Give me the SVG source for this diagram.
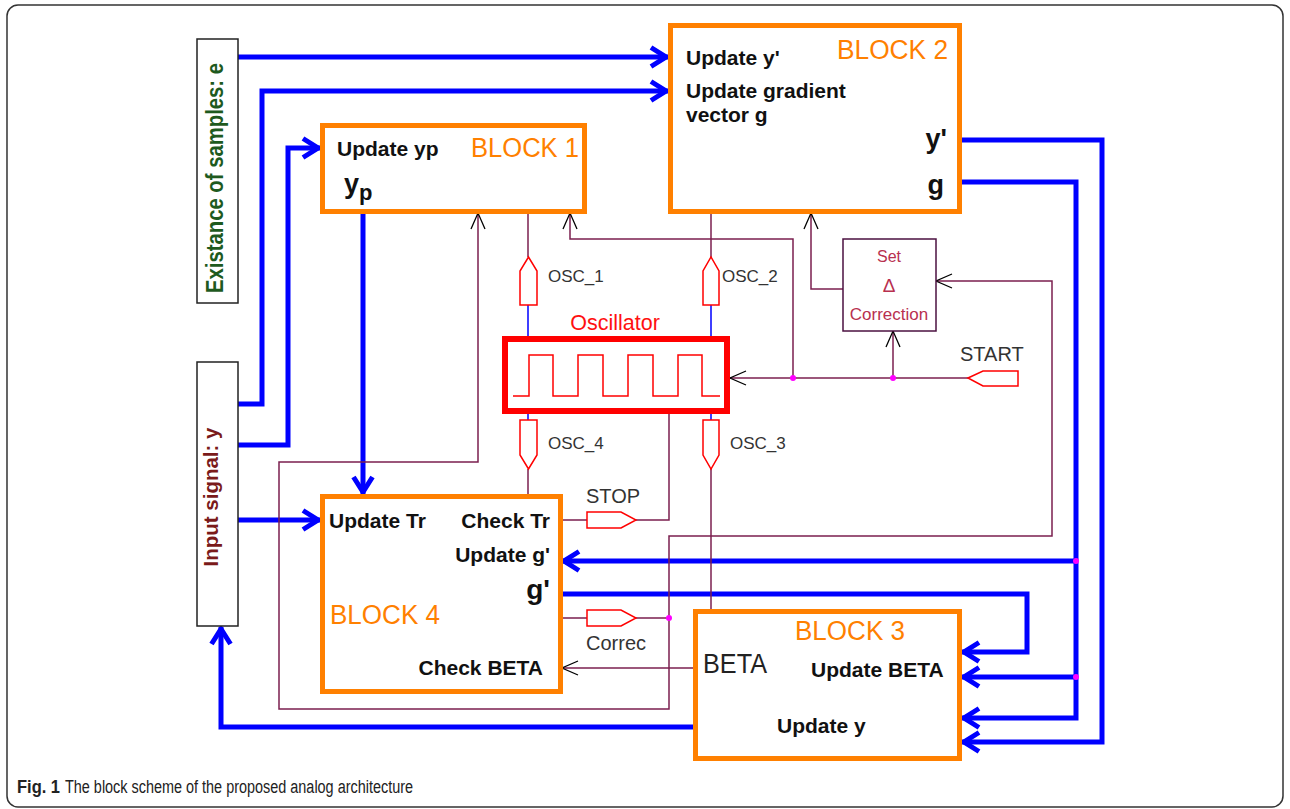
<svg xmlns="http://www.w3.org/2000/svg" width="1290" height="809" viewBox="0 0 1290 809">
<defs>
<style>
.blk{fill:#fff;stroke:#ff8000;stroke-width:5}
.bl{fill:none;stroke:#0000ff;stroke-width:5;marker-end:url(#ba)}
.bln{fill:none;stroke:#0000ff;stroke-width:5}
.mr{fill:none;stroke:#7b1f4f;stroke-width:1.5}
.mra{fill:none;stroke:#7b1f4f;stroke-width:1.5;marker-end:url(#oa)}
.thin{fill:none;stroke:#0000ff;stroke-width:1.5}
.pent{fill:#fff;stroke:#ff0000;stroke-width:1.5}
.dot{fill:#ff00ff}
.t{font-family:"Liberation Sans",Arial,sans-serif}
.b{font-weight:bold;fill:#111;font-size:21px}
.org{fill:#ff8000;font-size:27px}
.lab{fill:#333;font-size:17px}
.lab2{fill:#333;font-size:20px}
</style>
<marker id="ba" markerUnits="userSpaceOnUse" viewBox="-22 -13 24 26" refX="0" refY="0" markerWidth="24" markerHeight="26" orient="auto">
<path d="M-17,-9.5 L-2,0 L-17,9.5" fill="none" stroke="#0000ff" stroke-width="5"/>
</marker>
<marker id="oa" markerUnits="userSpaceOnUse" viewBox="-18 -10 20 20" refX="0" refY="0" markerWidth="20" markerHeight="20" orient="auto-start-reverse">
<path d="M-16,-7 L0,0 L-16,7" fill="none" stroke="#000" stroke-width="1.3"/>
</marker>
</defs>
<rect x="0" y="0" width="1290" height="809" fill="#fff"/>
<rect x="7" y="5" width="1276" height="802" rx="11" fill="none" stroke="#333" stroke-width="1.5"/>

<g id="connectors">
<!-- blue -->
<path class="bl" d="M238,57 H668"/>
<path class="bl" d="M238,404 H262 V91 H668"/>
<path class="bl" d="M238,445 H288 V148 H320"/>
<path class="bl" d="M238,520 H320"/>
<path class="bl" d="M363,213 V494"/>
<path class="bl" d="M695,727 H221 V627"/>
<path class="bl" d="M962,140 H1102 V742 H962"/>
<path class="bl" d="M962,182 H1076 V718 H962"/>
<path class="bl" d="M1076,561 H562"/>
<path class="bl" d="M1076,677 H962"/>
<path class="bl" d="M562,594 H1027 V652 H962"/>
<!-- maroon -->
<path class="mra" style="marker-start:url(#oa)" d="M478,213 V462 H279 V709 H669 V536 H1052 V281 H936"/>
<path class="mr" d="M528,213 V257"/>
<path class="mr" d="M711,213 V257"/>
<path class="mr" style="marker-start:url(#oa)" d="M570,213 V239 H793 V378"/>
<path class="mra" d="M968,378 H730"/>
<path class="mra" d="M893,378 V331"/>
<path class="mra" d="M843,289 H811 V213"/>
<path class="mr" d="M528,469 V494"/>
<path class="mr" d="M711,469 V611"/>
<path class="mr" d="M562,520 H587 M636,520 H669 V411"/>
<path class="mr" d="M562,618 H587 M636,618 H669"/>
<path class="mra" d="M695,668 H562"/>
<path class="thin" d="M528,305 V338 M711,305 V338 M528,411 V420 M711,411 V420"/>
<circle class="dot" cx="793" cy="378" r="3"/>
<circle class="dot" cx="893" cy="378" r="3"/>
<circle class="dot" cx="669" cy="618" r="3"/>
<circle class="dot" cx="1076" cy="561" r="3"/>
<circle class="dot" cx="1076" cy="677" r="3"/>
</g>

<g id="samples">
<rect x="197" y="39" width="41" height="264" fill="#fff" stroke="#222" stroke-width="1.5"/>
<text class="t" transform="translate(223,178) rotate(-90)" text-anchor="middle" font-size="24" font-weight="bold" fill="#1e5a1e" textLength="230" lengthAdjust="spacingAndGlyphs">Existance of samples: e</text>
</g>
<g id="input">
<rect x="197" y="362" width="41" height="264" fill="#fff" stroke="#222" stroke-width="1.5"/>
<text class="t" transform="translate(218,497) rotate(-90)" text-anchor="middle" font-size="20.5" font-weight="bold" fill="#7a1a1a" textLength="139" lengthAdjust="spacingAndGlyphs">Input signal: y</text>
</g>

<g id="block1">
<rect class="blk" x="322.5" y="125.5" width="262" height="86"/>
<text class="t b" x="337" y="156">Update yp</text>
<text class="t org" x="471" y="157" textLength="108" lengthAdjust="spacingAndGlyphs">BLOCK 1</text>
<text class="t" x="344" y="193" font-size="27" font-weight="bold" fill="#111">y<tspan font-size="22" dy="7">p</tspan></text>
</g>

<g id="block2">
<rect class="blk" x="670.5" y="25.5" width="289" height="186"/>
<text class="t b" x="686" y="65">Update y'</text>
<text class="t b" x="686" y="98">Update gradient</text>
<text class="t b" x="686" y="122">vector g</text>
<text class="t org" x="948" y="59" text-anchor="end" textLength="111" lengthAdjust="spacingAndGlyphs">BLOCK 2</text>
<text class="t" x="947" y="148" text-anchor="end" font-size="27" font-weight="bold" fill="#111">y'</text>
<text class="t" x="944" y="194" text-anchor="end" font-size="27" font-weight="bold" fill="#111">g</text>
</g>

<g id="oscillator">
<rect x="505" y="339" width="222" height="72" fill="#fff" stroke="#ff0000" stroke-width="6"/>
<polyline fill="none" stroke="#ff0000" stroke-width="1.5" points="513,396 529,396 529,355 553,355 553,396 578,396 578,355 603,355 603,396 628,396 628,355 653,355 653,396 678,396 678,355 702,355 702,396 720,396"/>
<text class="t" x="615" y="330" text-anchor="middle" font-size="21.5" fill="#ff1010">Oscillator</text>
</g>

<g id="osc1">
<polygon class="pent" points="520,305 520,271 528.5,257 537,271 537,305"/>
<text class="t lab" x="548" y="282">OSC_1</text>
</g>
<g id="osc2">
<polygon class="pent" points="703,305 703,271 711,257 719,271 719,305"/>
<text class="t lab" x="722" y="282">OSC_2</text>
</g>
<g id="osc4">
<polygon class="pent" points="520,420 537,420 537,455 528.5,469 520,455"/>
<text class="t lab" x="548" y="449">OSC_4</text>
</g>
<g id="osc3">
<polygon class="pent" points="703,420 719,420 719,455 711,469 703,455"/>
<text class="t lab" x="730" y="449">OSC_3</text>
</g>

<g id="setcorrection">
<rect x="843" y="239" width="93" height="92" fill="#fff" stroke="#4b1040" stroke-width="1.5"/>
<text class="t" x="889" y="262" text-anchor="middle" font-size="16" fill="#b8304f">Set</text>
<text class="t" x="889" y="292" text-anchor="middle" font-size="19" fill="#b8304f">Δ</text>
<text class="t" x="889" y="320" text-anchor="middle" font-size="17" fill="#b8304f">Correction</text>
</g>

<g id="start">
<polygon class="pent" points="968,378 983,371 1018,371 1018,386 983,386"/>
<text class="t lab2" x="960" y="361">START</text>
</g>
<g id="stop">
<polygon class="pent" points="587,512 621,512 636,520 621,528 587,528"/>
<text class="t lab2" x="586" y="503">STOP</text>
</g>
<g id="correc">
<polygon class="pent" points="587,610 621,610 636,618 621,626 587,626"/>
<text class="t lab2" x="586" y="650">Correc</text>
</g>

<g id="block4">
<rect class="blk" x="322.5" y="496.5" width="238" height="195"/>
<text class="t b" x="329" y="528">Update Tr</text>
<text class="t b" x="550" y="528" text-anchor="end">Check Tr</text>
<text class="t b" x="550" y="562" text-anchor="end">Update g'</text>
<text class="t" x="550" y="599" text-anchor="end" font-size="28" font-weight="bold" fill="#111">g'</text>
<text class="t org" x="330" y="624" textLength="110" lengthAdjust="spacingAndGlyphs">BLOCK 4</text>
<text class="t b" x="543" y="675" text-anchor="end">Check BETA</text>
</g>

<g id="block3">
<rect class="blk" x="695.5" y="611.5" width="264" height="147"/>
<text class="t org" x="795" y="640" textLength="110" lengthAdjust="spacingAndGlyphs">BLOCK 3</text>
<text class="t" x="703" y="673" font-size="28" fill="#222" textLength="64" lengthAdjust="spacingAndGlyphs">BETA</text>
<text class="t b" x="811" y="677">Update BETA</text>
<text class="t b" x="777" y="733">Update y</text>
</g>

<g id="caption">
<text class="t" x="17" y="793" font-size="18" font-weight="bold" fill="#222" textLength="43" lengthAdjust="spacingAndGlyphs">Fig. 1</text>
<text class="t" x="65" y="793" font-size="18" fill="#222" textLength="348" lengthAdjust="spacingAndGlyphs">The block scheme of the proposed analog architecture</text>
</g>
</svg>
